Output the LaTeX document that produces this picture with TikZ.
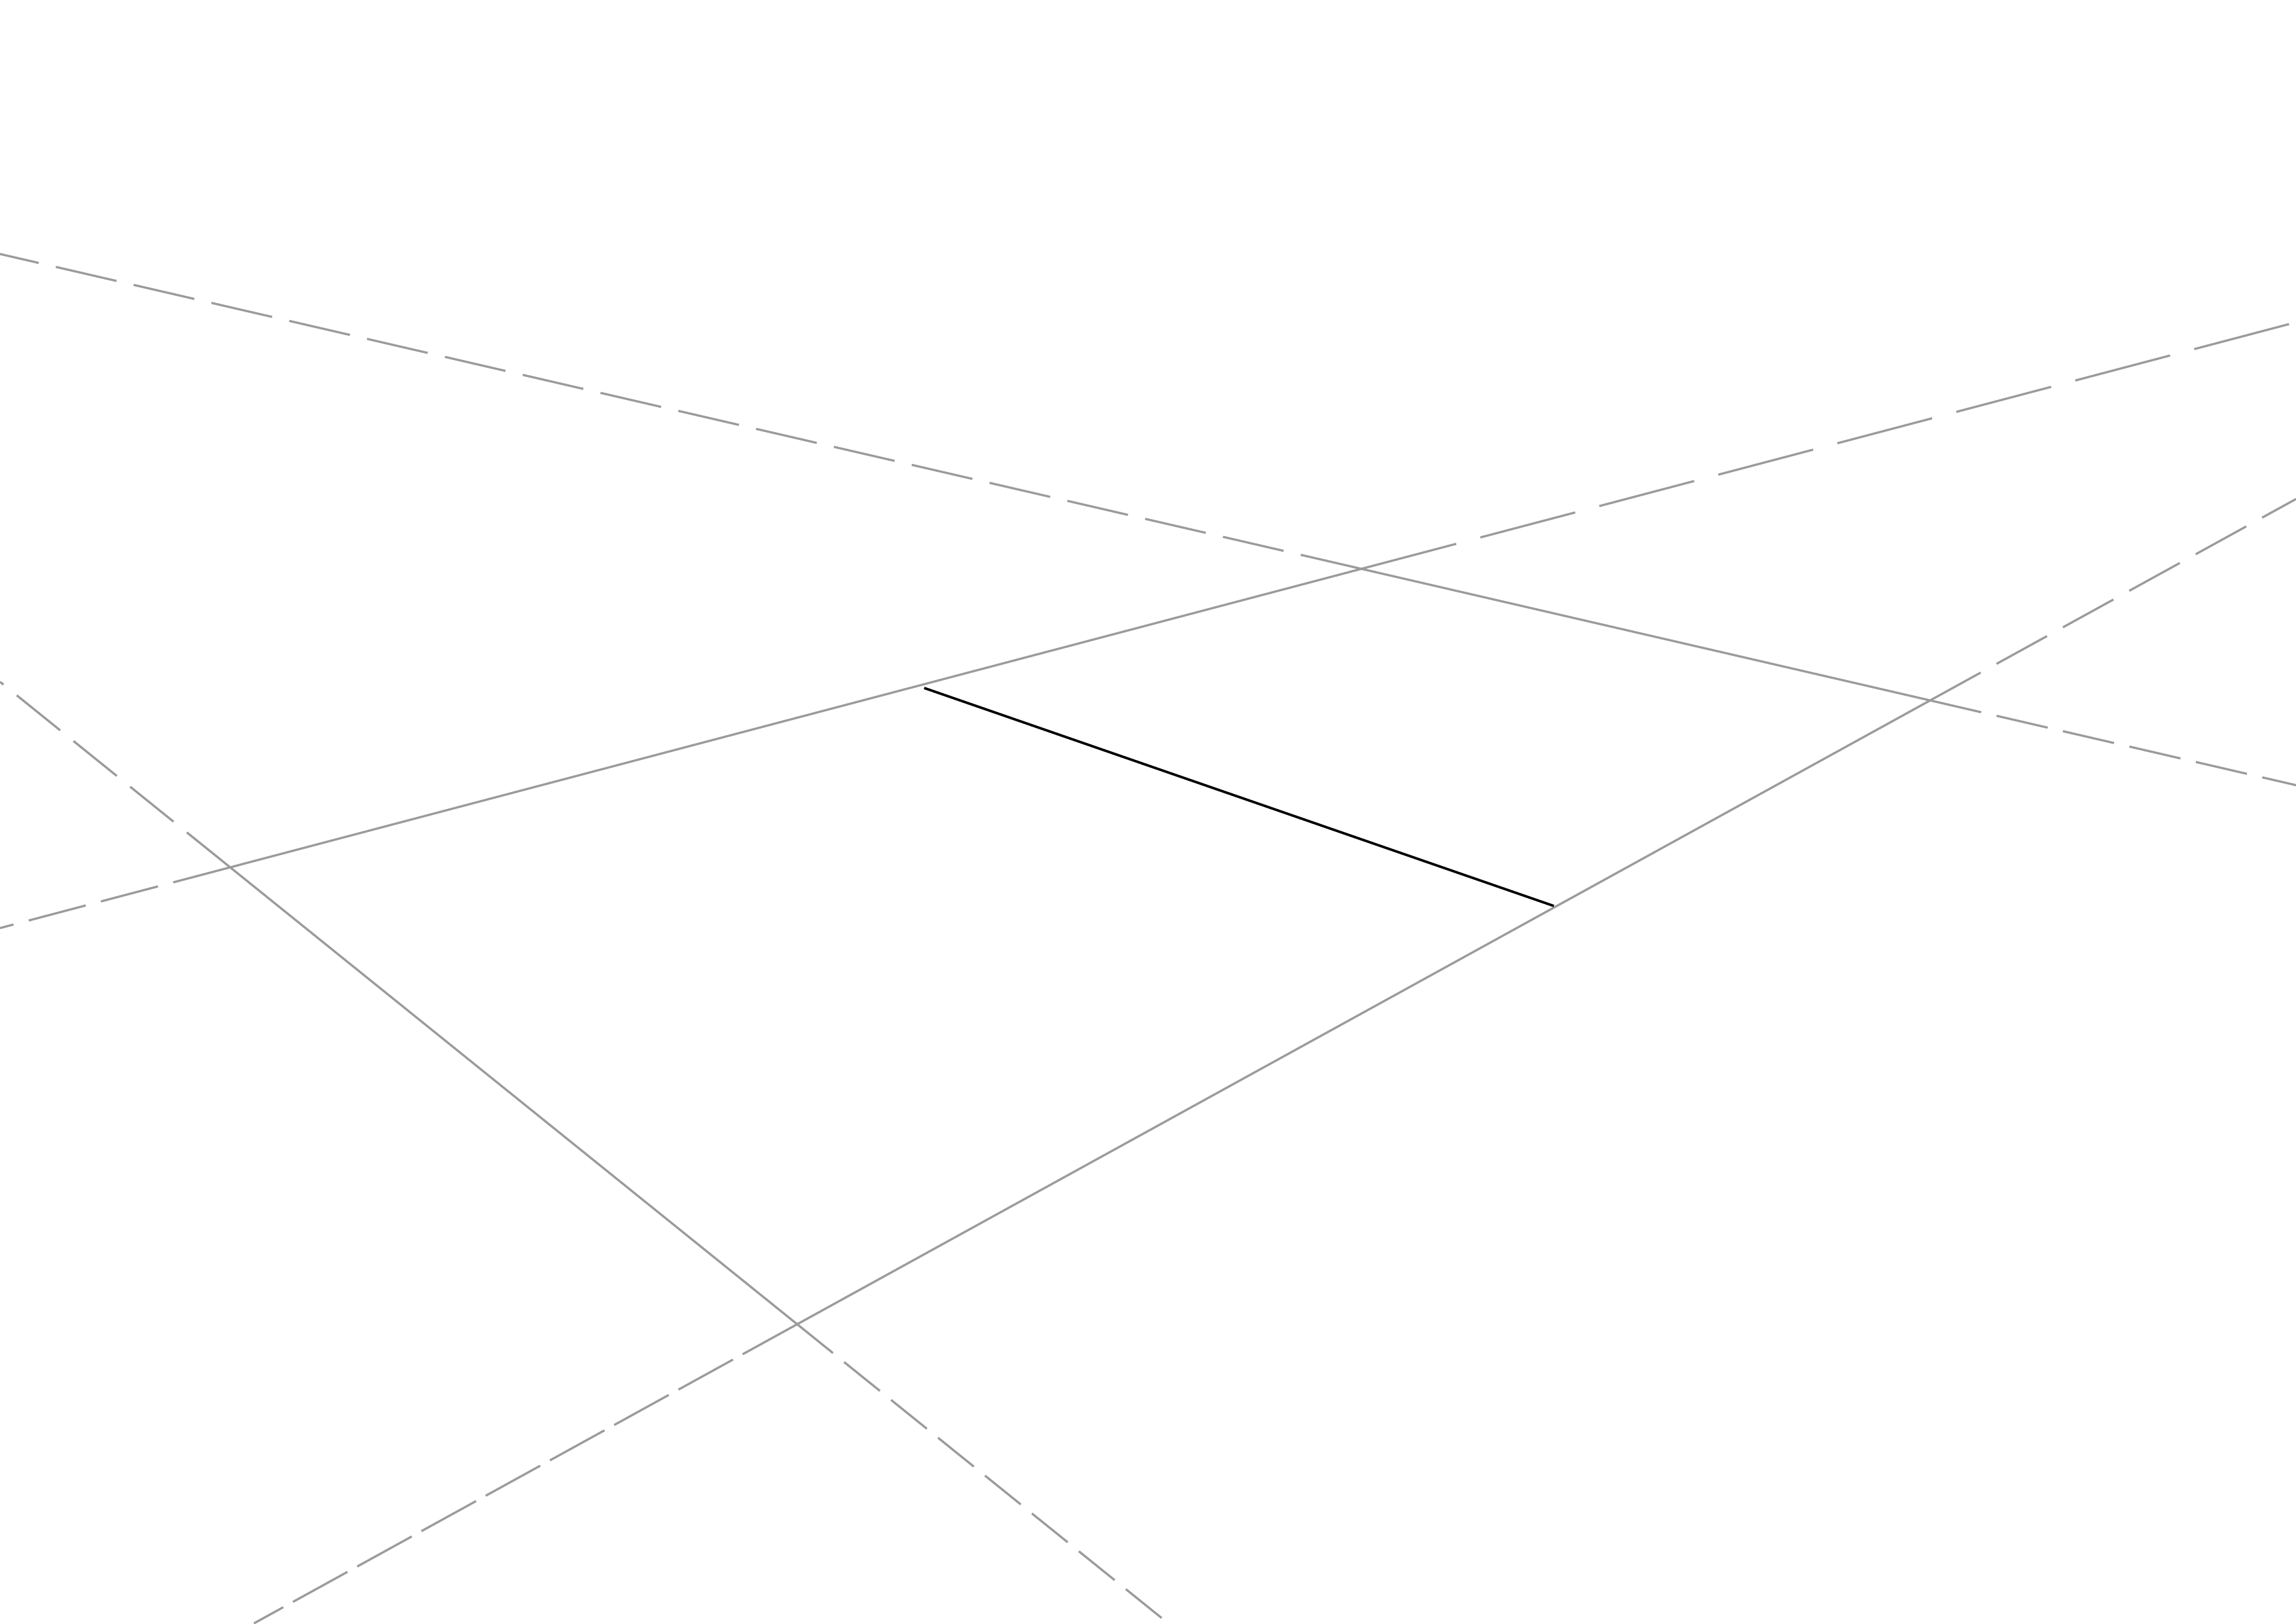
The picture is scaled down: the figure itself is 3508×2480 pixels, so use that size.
\documentclass[tikz,border=0pt]{standalone}
\definecolor{linegray}{RGB}{155,155,155}
\tikzset{
  edgeline/.style={draw=linegray, line width=0.8pt},
  extline/.style={draw=linegray, line width=0.8pt},
  blackline/.style={draw=black, line width=0.9pt}
}
\begin{document}
\begin{tikzpicture}[x=0.0084664cm, y=-0.0084664cm]
\useasboundingbox (0,0) rectangle (3508,2480);
% quadrilateral vertices
\coordinate (P1) at (351.7,1325);
\coordinate (P2) at (2080,869);
\coordinate (P3) at (2949,1070);
\coordinate (P4) at (1218,2023);
% ends of the lines at the border
\coordinate (AL) at (0,388);
\coordinate (AR) at (3508,1199.5);
\coordinate (BL) at (0,1417.8);
\coordinate (BR) at (3508,492.3);
\coordinate (CU) at (0,1041.6);
\coordinate (CD) at (1785,2480);
\coordinate (DD) at (388,2480);
\coordinate (DU) at (3508,762.3);
% black segment
\coordinate (K1) at (1412,1051);
\coordinate (K2) at (2374,1384);
% dashed extensions
\draw[extline, dash pattern=on 22.9pt off 6.5pt] (P2) -- (AL);
\draw[extline, dash pattern=on 19.3pt off 5.8pt] (P3) -- (AR);
\draw[extline, dash pattern=on 21.7pt off 5.8pt] (P1) -- (BL);
\draw[extline, dash pattern=on 36.1pt off 9.2pt] (P2) -- (BR);
\draw[extline, dash pattern=on 20.5pt off 6.3pt] (P1) -- (CU);
\draw[extline, dash pattern=on 16.9pt off 5.3pt] (P4) -- (CD);
\draw[extline, dash pattern=on 22.9pt off 4.1pt] (P4) -- (DD);
\draw[extline, dash pattern=on 21.2pt off 6.7pt] (P3) -- (DU);
% solid edges
\draw[edgeline] (P1) -- (P2) -- (P3) -- (P4) -- cycle;
% black line
\draw[blackline] (K1) -- (K2);
\end{tikzpicture}
\end{document}
